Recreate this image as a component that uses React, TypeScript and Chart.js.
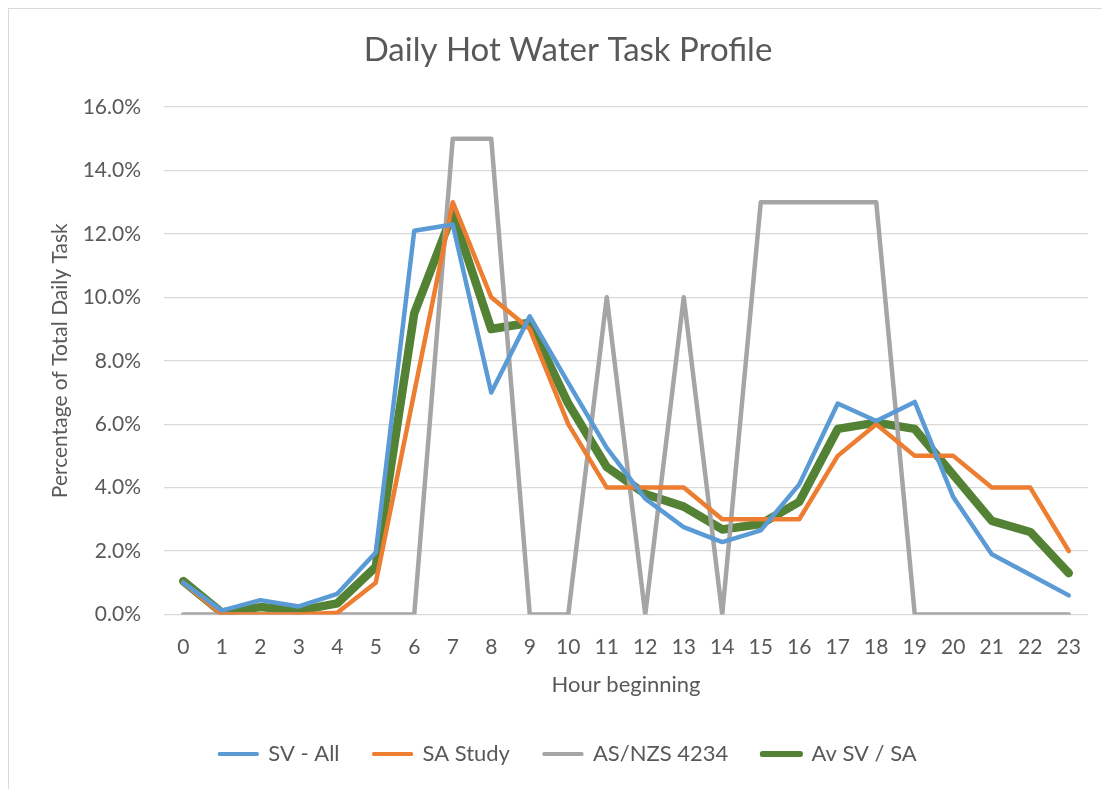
import React, { useEffect, useRef } from "react";
import { Chart, registerables } from "chart.js";

Chart.register(...registerables);

const hours = ["0","1","2","3","4","5","6","7","8","9","10","11","12","13","14","15","16","17","18","19","20","21","22","23"];
const svAll = [1.0, 0.12, 0.45, 0.25, 0.65, 1.95, 12.1, 12.3, 7.0, 9.4, 7.3, 5.25, 3.65, 2.75, 2.28, 2.65, 4.1, 6.65, 6.1, 6.7, 3.7, 1.9, 1.25, 0.6];
const saStudy = [1.0, 0.0, 0.0, 0.0, 0.05, 1.0, 7.0, 13.0, 10.0, 9.0, 6.0, 4.0, 4.0, 4.0, 3.0, 3.0, 3.0, 5.0, 6.0, 5.0, 5.0, 4.0, 4.0, 2.0];
const asNzs = [0, 0, 0, 0, 0, 0, 0, 15, 15, 0, 0, 10, 0, 10, 0, 13, 13, 13, 13, 0, 0, 0, 0, 0];
const avSvSa = [1.05, 0.06, 0.23, 0.12, 0.35, 1.5, 9.5, 12.65, 9.0, 9.2, 6.65, 4.65, 3.8, 3.4, 2.68, 2.85, 3.55, 5.85, 6.05, 5.85, 4.4, 2.95, 2.6, 1.3];
const yTicks = [0, 2, 4, 6, 8, 10, 12, 14, 16];

const TXT = "#595959";
const FONT = "Lato, 'Open Sans', sans-serif";

export default function App() {
  const ref = useRef<HTMLCanvasElement | null>(null);
  useEffect(() => {
    if (!ref.current) return;
    const mk = (label: string, data: number[], color: string, w: number) => ({
      label,
      data,
      borderColor: color,
      backgroundColor: color,
      borderWidth: w,
      pointRadius: 0,
      pointHoverRadius: 0,
      tension: 0,
      borderJoinStyle: "round" as const,
      borderCapStyle: "round" as const,
      fill: false,
    });
    const chart = new Chart(ref.current, {
      type: "line",
      data: {
        labels: hours,
        datasets: [
          mk("SV - All", svAll, "#5B9BD5", 4.5),
          mk("SA Study", saStudy, "#ED7D31", 4.5),
          mk("AS/NZS 4234", asNzs, "#A5A5A5", 4.5),
          mk("Av SV / SA", avSvSa, "#548235", 8.5),
        ],
      },
      options: {
        responsive: false,
        animation: false,
        layout: { padding: { left: 39, right: 22, top: 0, bottom: 14 } },
        plugins: {
          title: {
            display: true,
            text: "Daily Hot Water Task Profile",
            color: TXT,
            font: { family: FONT, size: 33, weight: "normal" },
            padding: { top: 22, bottom: 36.5 },
          },
          legend: {
            position: "bottom",
            labels: {
              color: TXT,
              font: { family: FONT, size: 22 },
              boxWidth: 38,
              boxHeight: 1,
              padding: 34,
              generateLabels: (c: any) => {
                const items = Chart.defaults.plugins.legend.labels.generateLabels(c);
                return items.map((it: any, i: number) => ({
                  ...it,
                  lineWidth: i === 3 ? 5 : 3,
                  lineCap: "round",
                  lineJoin: "round",
                }));
              },
            },
          },
          tooltip: { enabled: false },
        },
        scales: {
          x: {
            offset: true,
            grid: { display: false },
            border: { display: false },
            ticks: { color: TXT, font: { family: FONT, size: 21 }, padding: 12, maxRotation: 0, autoSkip: false },
            title: {
              display: true,
              text: "Hour beginning",
              color: TXT,
              font: { family: FONT, size: 22 },
              padding: { top: 0, bottom: 11 },
            },
          },
          y: {
            min: 0,
            max: 16,
            afterBuildTicks: (s: any) => {
              s.ticks = yTicks.map((v) => ({ value: v }));
            },
            afterFit: (s: any) => {
              s.width = 116;
            },
            grid: { color: "#D9D9D9", lineWidth: 1.3, drawTicks: false },
            border: { display: false },
            ticks: {
              color: TXT,
              font: { family: FONT, size: 21 },
              padding: 23,
              callback: (v: any) => Number(v).toFixed(1) + "%",
            },
            title: {
              display: true,
              text: "Percentage of Total Daily Task",
              color: TXT,
              font: { family: FONT, size: 21 },
              padding: { top: 0, bottom: 0 },
            },
          },
        },
      },
    });
    return () => chart.destroy();
  }, []);
  return (
    <div
      style={{
        position: "relative",
        width: 1102,
        height: 781,
        boxSizing: "border-box",
        borderTop: "1px solid #D9D9D9",
        borderLeft: "1px solid #D9D9D9",
        background: "#fff",
      }}
    >
      <canvas ref={ref} width={1101} height={780} style={{ display: "block", width: 1101, height: 780 }} />
    </div>
  );
}
